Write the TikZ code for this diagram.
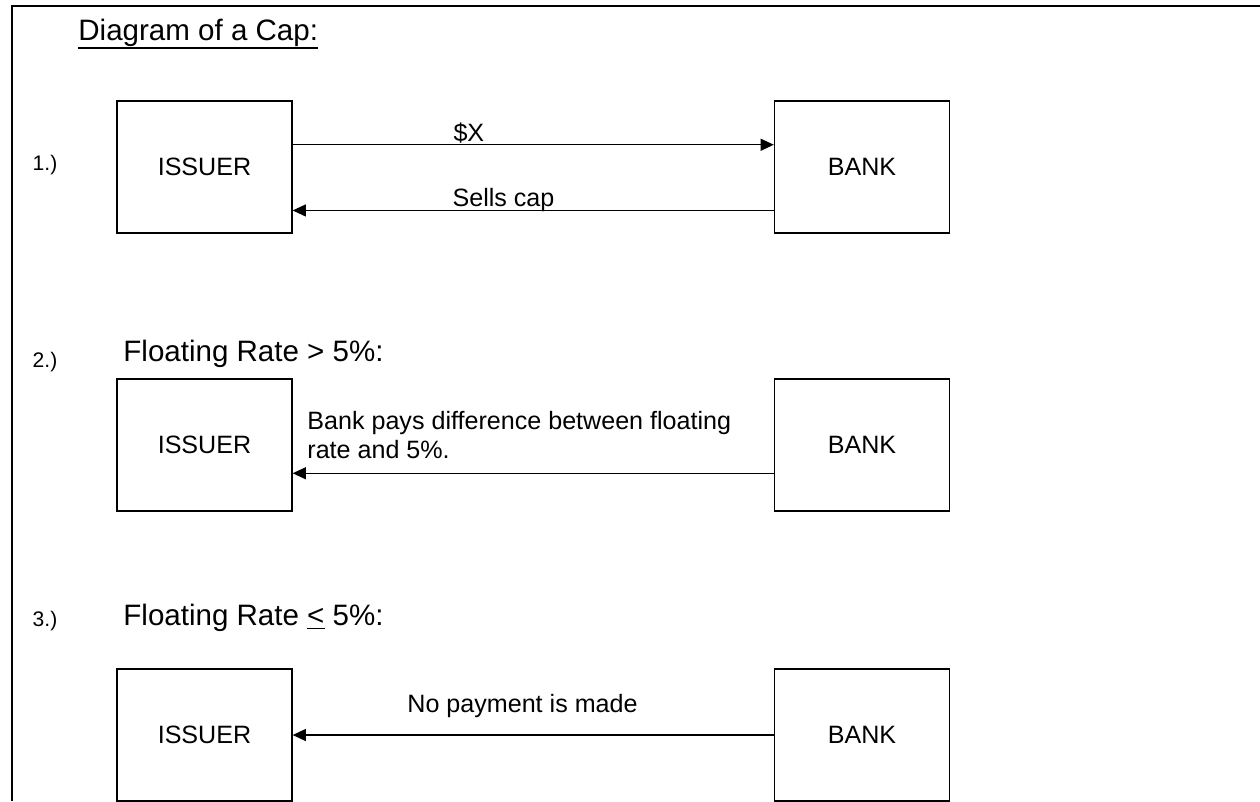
\documentclass[tikz,border=0pt]{standalone}
\usepackage{fontspec}
\setmainfont{Liberation Sans}
\usetikzlibrary{positioning}
\usetikzlibrary{calc}
\usetikzlibrary{arrows.meta}

\tikzset{
  party/.style={draw, line width=0.6pt, minimum width=2.917cm, minimum height=2.2cm, inner sep=0pt, font=\fontsize{11.9}{14}\selectfont},
  flow/.style={-{Triangle[length=0.22cm, width=0.2cm]}, line width=0.6pt},
  lbl/.style={font=\fontsize{11.9}{13.4}\selectfont, inner sep=0pt, anchor=base west},
  head/.style={font=\fontsize{14}{16}\selectfont, inner sep=0pt, anchor=base west},
  num/.style={font=\fontsize{10}{12}\selectfont, inner sep=0pt}
}

\begin{document}
\begin{tikzpicture}[x=0.016667cm, y=-0.016667cm]
        \useasboundingbox (0,0) rectangle (1260,801);
        % frame %
        \coordinate (fb) at (12,801);
        \coordinate (fc) at (12,6);
        \coordinate (fr) at (1260,6);
        \draw[line width=1pt] (fb) -- (fc) -- (fr);
        \node[head] (title) at (78,40) {Diagram of a Cap:};
        \draw[line width=0.9pt] ([yshift=-3.8pt]title.base west) -- ([yshift=-3.8pt]title.base east);

        % row 1 %
        \node[num] (n1) at (45,165) {1.)};
        \node[party] (i1) at (204.5,167) {ISSUER};
        \node[party, right=8.017cm of i1] (b1) {BANK};
        \draw[flow] ($(i1.north east)!0.333!(i1.south east)$) -- node[lbl, pos=0.333, yshift=0.05cm] (x1) {\$X} ($(b1.north west)!0.333!(b1.south west)$);
        \draw[flow] ($(b1.north west)!0.826!(b1.south west)$) -- node[lbl, pos=0.669, yshift=0.06cm] (s1) {Sells cap} ($(i1.north east)!0.826!(i1.south east)$);

        % row 2 %
        \node[num] (n2) at (45,362) {2.)};
        \node[head] (h2) at (123,361) {Floating Rate > 5\%:};
        \node[party] (i2) at (204.5,445) {ISSUER};
        \node[party, right=8.017cm of i2] (b2) {BANK};
        \node[lbl, align=left] (p2) at (307,458) {Bank pays difference between floating\\rate and 5\%.};
        \draw[flow] ($(b2.north west)!0.712!(b2.south west)$) -- ($(i2.north east)!0.712!(i2.south east)$);

        % row 3 %
        \node[num] (n3) at (45,621) {3.)};
        \node[head] (h3) at (123,625) {Floating Rate \underline{<} 5\%:};
        \node[party] (i3) at (204.5,735) {ISSUER};
        \node[party, right=8.017cm of i3] (b3) {BANK};
        \node[lbl] (p3) at (407,712) {No payment is made};
        \draw[flow] (b3) -- (i3);
\end{tikzpicture}
\end{document}
